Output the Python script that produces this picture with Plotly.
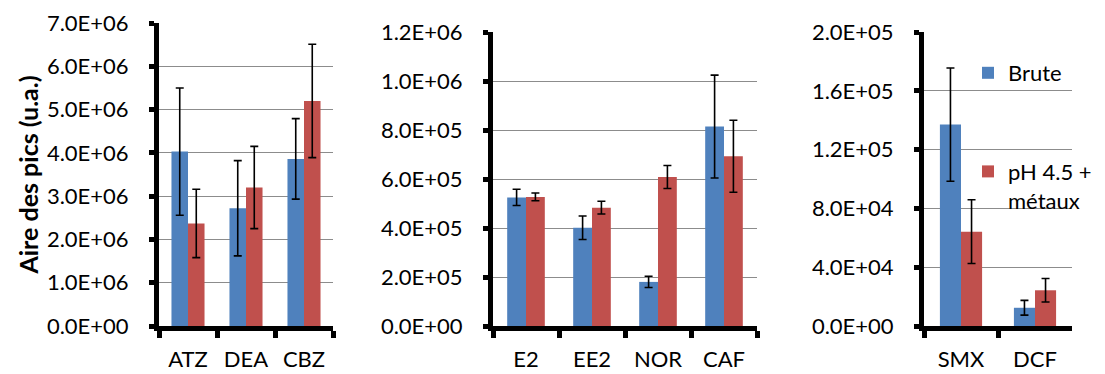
import plotly.graph_objects as go

# Peak areas (u.a.) per compound, raw water ("Brute") vs pH 4.5 + metals
cats1 = ["ATZ", "DEA", "CBZ"]
brute1 = [4.03e6, 2.72e6, 3.86e6]
brute1_err = [1.47e6, 1.10e6, 0.93e6]
ph1 = [2.37e6, 3.20e6, 5.20e6]
ph1_err = [0.79e6, 0.95e6, 1.31e6]

cats2 = ["E2", "EE2", "NOR", "CAF"]
brute2 = [5.25e5, 4.01e5, 1.80e5, 8.14e5]
brute2_err = [0.33e5, 0.48e5, 0.23e5, 2.10e5]
ph2 = [5.27e5, 4.83e5, 6.08e5, 6.93e5]
ph2_err = [0.16e5, 0.26e5, 0.47e5, 1.47e5]

cats3 = ["SMX", "DCF"]
brute3 = [1.37e5, 1.24e4]
brute3_err = [3.85e4, 5.0e3]
ph3 = [6.42e4, 2.43e4]
ph3_err = [2.17e4, 8.0e3]

# Y tick values and their labels for each panel
ticks1 = [0, 1e6, 2e6, 3e6, 4e6, 5e6, 6e6, 7e6]
labels1 = ["0.0E+00", "1.0E+06", "2.0E+06", "3.0E+06", "4.0E+06", "5.0E+06", "6.0E+06", "7.0E+06"]
ticks2 = [0, 2e5, 4e5, 6e5, 8e5, 1.0e6, 1.2e6]
labels2 = ["0.0E+00", "2.0E+05", "4.0E+05", "6.0E+05", "8.0E+05", "1.0E+06", "1.2E+06"]
ticks3 = [0, 4e4, 8e4, 1.2e5, 1.6e5, 2.0e5]
labels3 = ["0.0E+00", "4.0E+04", "8.0E+04", "1.2E+05", "1.6E+05", "2.0E+05"]

series_names = ["Brute", "pH 4.5 +<br>métaux"]

BLUE = "#4F81BD"
RED = "#C0504D"
FONT = "Lato"
FS = 22

W, H = 1105, 374

fig = go.Figure()

panels = [
    (cats1, brute1, brute1_err, ph1, ph1_err, "x", "y"),
    (cats2, brute2, brute2_err, ph2, ph2_err, "x2", "y2"),
    (cats3, brute3, brute3_err, ph3, ph3_err, "x3", "y3"),
]

for i, (cats, b, be, p, pe, xa, ya) in enumerate(panels):
    show = i == 2
    fig.add_trace(go.Bar(
        x=cats, y=b, name=series_names[0], marker_color=BLUE,
        marker_line_width=0, xaxis=xa, yaxis=ya,
        legendgroup="brute", showlegend=show,
        error_y=dict(type="data", array=be, visible=True,
                     color="black", thickness=1.6, width=4),
    ))
    fig.add_trace(go.Bar(
        x=cats, y=p, name=series_names[1], marker_color=RED,
        marker_line_width=0, xaxis=xa, yaxis=ya,
        legendgroup="ph", showlegend=show,
        error_y=dict(type="data", array=pe, visible=True,
                     color="black", thickness=1.6, width=4),
    ))


def px_x(v):
    return v / W


def px_y(v):
    return 1 - v / H


bottom = px_y(326)
domains_x = [(px_x(159), px_x(333)), (px_x(493), px_x(757)), (px_x(924), px_x(1072))]
domains_y = [(bottom, px_y(23)), (bottom, px_y(32)), (bottom, px_y(32))]
ranges_y = [(0, 7e6), (0, 1.2e6), (0, 2e5)]
ticks = [(ticks1, labels1), (ticks2, labels2), (ticks3, labels3)]

axis_common = dict(
    showline=True, linecolor="black", linewidth=5,
    ticks="outside", tickcolor="black", tickwidth=5,
    automargin=False,
    tickfont=dict(family=FONT, size=FS, color="black"),
)

layout = dict()
for i in range(3):
    sx = "" if i == 0 else str(i + 1)
    layout["xaxis" + sx] = dict(
        domain=list(domains_x[i]), anchor="y" + sx,
        tickson="boundaries", ticklen=7, showgrid=False,
        ticklabelstandoff=10,
        **axis_common,
    )
    layout["yaxis" + sx] = dict(
        domain=list(domains_y[i]), anchor="x" + sx,
        range=list(ranges_y[i]), tickvals=ticks[i][0], ticktext=ticks[i][1],
        ticklen=5, showgrid=True, gridcolor="#8C8C8C", gridwidth=1.3,
        zeroline=False, ticklabelstandoff=16,
        **axis_common,
    )

layout["yaxis"]["title"] = dict(
    text="<b>Aire des pics (u.a.)</b>", standoff=3,
    font=dict(family=FONT, size=25, color="black"),
)

fig.update_layout(
    **layout,
    width=W, height=H,
    margin=dict(l=0, r=0, t=0, b=0, autoexpand=False),
    paper_bgcolor="white", plot_bgcolor="white",
    barmode="group", bargap=0.43, bargroupgap=0,
    font=dict(family=FONT, size=FS, color="black"),
    legend=dict(
        x=px_x(968), y=px_y(52), xanchor="left", yanchor="top",
        bgcolor="rgba(0,0,0,0)", traceorder="grouped", tracegroupgap=67,
        valign="top", font=dict(family=FONT, size=FS, color="black"),
    ),
)

fig.write_html("out.html")
